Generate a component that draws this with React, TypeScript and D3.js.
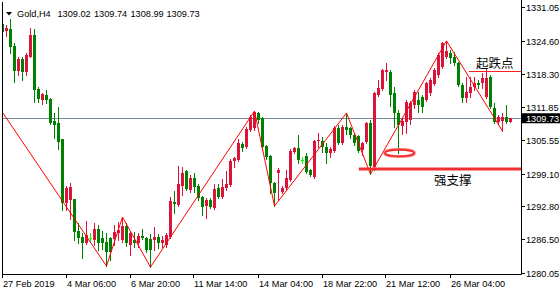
import React from 'react';
import * as d3 from 'd3';

// ---- DATA (H4 Gold candles) ----
const opens = [
  1327.93, 1326.49, 1326.88, 1323.61, 1318.80, 1321.11, 1318.61, 1321.50, 1325.72, 1315.34,
  1313.23, 1314.19, 1313.42, 1309.19, 1308.81, 1305.73, 1293.43, 1294.01, 1294.20, 1288.05,
  1286.90, 1285.75, 1286.80, 1286.33, 1288.44, 1286.71, 1285.94, 1286.71, 1286.52, 1287.67,
  1286.33, 1289.01, 1285.36, 1286.33, 1285.75, 1287.09, 1286.71, 1286.52, 1286.33, 1286.90,
  1285.75, 1285.36, 1286.90, 1293.63, 1293.05, 1296.70, 1299.58, 1295.93, 1298.24, 1296.70,
  1294.59, 1292.86, 1294.01, 1292.47, 1296.32, 1294.59, 1296.32, 1296.89, 1301.51, 1301.70,
  1304.77, 1304.20, 1307.46, 1307.85, 1310.73, 1309.77, 1304.39, 1302.47, 1297.28, 1299.20,
  1295.55, 1296.32, 1297.86, 1303.24, 1304.00, 1301.70, 1302.47, 1299.78, 1298.43, 1305.35,
  1305.35, 1304.20, 1303.05, 1303.43, 1307.85, 1304.97, 1308.04, 1307.85, 1306.50, 1306.31,
  1303.62, 1305.16, 1308.81, 1300.35, 1314.19, 1315.34, 1318.61, 1318.61, 1314.58, 1310.73,
  1308.23, 1309.00, 1309.39, 1312.27, 1313.23, 1313.81, 1313.23, 1314.58, 1316.31, 1318.04,
  1319.57, 1321.50, 1322.26, 1321.50, 1320.34, 1316.11, 1313.61, 1314.58, 1315.73, 1316.50,
  1316.50, 1313.81, 1317.65, 1311.69, 1309.00, 1309.19, 1309.96, 1309.02,
];
const highs = [
  1328.22, 1327.65, 1328.80, 1324.19, 1321.50, 1321.50, 1322.26, 1327.07, 1326.88, 1315.73,
  1314.58, 1315.15, 1313.61, 1310.73, 1311.89, 1305.80, 1296.70, 1297.28, 1294.30, 1289.59,
  1287.67, 1289.97, 1287.67, 1289.59, 1289.21, 1288.05, 1287.67, 1286.90, 1289.21, 1289.78,
  1290.74, 1289.59, 1287.86, 1287.86, 1287.67, 1288.44, 1286.90, 1287.48, 1288.82, 1287.48,
  1287.09, 1287.67, 1294.59, 1295.74, 1300.55, 1300.35, 1299.70, 1298.82, 1299.20, 1297.09,
  1294.70, 1294.39, 1294.39, 1297.09, 1297.09, 1298.05, 1299.58, 1301.89, 1302.20, 1305.73,
  1305.16, 1308.04, 1310.35, 1311.11, 1311.00, 1309.96, 1304.58, 1302.66, 1297.47, 1300.16,
  1296.70, 1299.78, 1303.81, 1304.20, 1306.50, 1302.28, 1303.05, 1299.97, 1305.50, 1306.89,
  1306.12, 1304.97, 1304.20, 1308.23, 1308.43, 1308.43, 1310.73, 1308.04, 1306.89, 1306.50,
  1305.16, 1309.00, 1309.39, 1314.70, 1317.07, 1319.10, 1320.34, 1319.00, 1315.73, 1311.31,
  1309.77, 1313.23, 1313.04, 1315.15, 1314.77, 1314.19, 1316.69, 1317.46, 1319.38, 1322.26,
  1324.30, 1324.60, 1322.84, 1322.45, 1320.50, 1316.50, 1317.65, 1317.65, 1317.65, 1317.07,
  1318.42, 1319.19, 1318.04, 1312.65, 1310.35, 1310.73, 1312.27, 1309.74,
];
const lows = [
  1326.11, 1325.53, 1322.26, 1316.69, 1318.04, 1317.07, 1318.04, 1321.50, 1312.85, 1312.85,
  1312.46, 1312.65, 1308.70, 1305.93, 1303.81, 1292.09, 1292.09, 1290.36, 1286.33, 1285.75,
  1282.86, 1285.60, 1285.94, 1285.36, 1284.40, 1284.59, 1281.33, 1282.48, 1285.36, 1286.33,
  1285.94, 1285.17, 1283.44, 1284.98, 1284.98, 1286.52, 1284.02, 1281.13, 1284.40, 1284.79,
  1284.98, 1284.98, 1286.70, 1291.51, 1292.90, 1294.97, 1295.90, 1295.55, 1295.55, 1294.01,
  1291.13, 1290.55, 1292.47, 1292.30, 1294.39, 1294.40, 1295.93, 1296.70, 1300.35, 1301.51,
  1303.43, 1304.00, 1307.27, 1307.46, 1308.81, 1304.00, 1301.89, 1295.36, 1292.86, 1294.01,
  1295.36, 1296.13, 1297.66, 1303.05, 1301.12, 1301.12, 1299.20, 1298.63, 1298.30, 1304.20,
  1303.24, 1301.12, 1302.28, 1303.24, 1304.77, 1304.80, 1306.70, 1305.93, 1304.58, 1303.24,
  1302.66, 1304.97, 1299.01, 1299.78, 1314.00, 1315.15, 1317.07, 1312.08, 1308.04, 1303.05,
  1306.70, 1306.89, 1308.62, 1311.69, 1310.92, 1310.92, 1313.04, 1314.19, 1316.10, 1317.65,
  1319.38, 1321.30, 1320.34, 1319.96, 1315.90, 1312.85, 1312.85, 1313.81, 1315.15, 1315.54,
  1315.54, 1313.61, 1311.69, 1308.81, 1308.62, 1307.27, 1308.81, 1308.99,
];
const closes = [
  1326.30, 1327.07, 1323.42, 1318.80, 1321.11, 1318.61, 1321.88, 1325.72, 1315.15, 1313.42,
  1314.38, 1313.23, 1308.81, 1308.43, 1305.16, 1293.43, 1296.32, 1296.51, 1287.86, 1286.71,
  1285.75, 1287.29, 1286.80, 1288.44, 1285.75, 1285.75, 1284.02, 1284.02, 1287.86, 1288.25,
  1289.01, 1285.75, 1287.67, 1285.75, 1287.09, 1286.71, 1284.40, 1284.40, 1286.90, 1285.75,
  1286.33, 1287.29, 1293.82, 1293.24, 1297.09, 1299.20, 1296.13, 1298.24, 1296.51, 1294.39,
  1292.67, 1294.01, 1292.67, 1296.13, 1294.59, 1296.51, 1297.09, 1301.51, 1302.08, 1304.97,
  1304.00, 1307.66, 1309.96, 1310.92, 1309.39, 1304.20, 1302.28, 1297.28, 1295.36, 1299.78,
  1296.32, 1298.24, 1303.43, 1304.00, 1301.70, 1301.70, 1299.39, 1298.82, 1305.35, 1305.54,
  1304.20, 1303.05, 1303.81, 1307.85, 1304.97, 1308.04, 1307.46, 1306.50, 1304.97, 1303.43,
  1304.97, 1308.81, 1300.55, 1314.58, 1315.54, 1319.00, 1319.00, 1314.19, 1310.73, 1308.43,
  1309.19, 1312.85, 1312.65, 1314.77, 1312.27, 1311.89, 1316.50, 1317.07, 1319.00, 1321.88,
  1324.19, 1322.65, 1321.30, 1320.34, 1316.11, 1313.61, 1314.77, 1315.73, 1316.50, 1316.11,
  1317.46, 1317.46, 1311.89, 1309.00, 1309.96, 1309.96, 1309.00, 1309.73,
];

const timeLabels = ['27 Feb 2019', '4 Mar 06:00', '6 Mar 20:00', '11 Mar 14:00', '14 Mar 04:00', '18 Mar 22:00', '21 Mar 12:00', '26 Mar 04:00'];
const timeLabelBars = [0, 16, 32, 48, 64, 80, 96, 112];
const priceTicks = [1331.05, 1324.6, 1318.3, 1311.85, 1305.55, 1299.1, 1292.8, 1286.5, 1280.05];

const zigzagBars = [-4, 26, 30, 37, 63, 68, 86, 92, 111, 125];
const zigzagPrices = [1315.4, 1281.33, 1290.74, 1281.13, 1311.11, 1292.86, 1310.73, 1299.01, 1324.6, 1307.27];

const headerSymbol = 'Gold,H4';
const headerValues = ['1309.02', '1309.74', '1308.99', '1309.73'];
const lastPrice = 1309.73;

const resistancePrice = 1318.9;
const resistanceStartBar = 116.6;
const resistanceLabel = '起跌点';
const supportPrice = 1300.0;
const supportStartBar = 89.1;
const supportLabel = '强支撑';
const markBar = 99.25;
const markPrice = 1303.05;

// ---- LAYOUT ----
const W = 560;
const H = 290;
const plotLeft = 2;
const plotRight = 521;
const plotTop = 2;
const plotBottom = 274;
const FONT = '"Liberation Sans", Arial, sans-serif';

const BULL = '#dc143c';
const BEAR = '#008000';
const DOJI = '#00ff00';

export default function App() {
  const x = d3.scaleLinear().domain([0, 127]).range([2.5, 510.5]);
  const y = d3.scaleLinear().domain([1280.05, 1331.05]).range([272.7, 7.3]);

  const candles = opens.map((o, i) => ({ o, h: highs[i], l: lows[i], c: closes[i], i }));

  const zz = zigzagBars.map((b, k) => [x(b), y(zigzagPrices[k])] as [number, number]);
  const zzPath = d3.line()(zz) || '';

  const lastY = Math.round(y(lastPrice)) + 0.5;
  const resY = Math.round(y(resistancePrice)) + 0.5;
  const supY = y(supportPrice);
  const headerX = [57.5, 94, 130.5, 166.5];

  return (
    <svg width={W} height={H} style={{ position: 'absolute', left: 0, top: 0, background: '#fff' }}>
      <defs>
        <clipPath id="plot">
          <rect x={plotLeft + 0.5} y={plotTop} width={plotRight - plotLeft - 0.5} height={plotBottom - plotTop} />
        </clipPath>
      </defs>
      <rect x={0} y={0} width={W} height={H} fill="#fff" />

      {/* price line */}
      <line x1={plotLeft} x2={plotRight} y1={lastY} y2={lastY} stroke="#778899" strokeWidth={1} />

      <g clipPath="url(#plot)">
        {candles.map((d) => {
          const cx = x(d.i);
          const color = d.c > d.o ? BULL : d.c < d.o ? BEAR : DOJI;
          const top = y(Math.max(d.o, d.c));
          const bot = y(Math.min(d.o, d.c));
          const bh = Math.max(1, Math.round(bot) - Math.round(top));
          return (
            <g key={d.i}>
              <line x1={cx} x2={cx} y1={Math.round(y(d.h))} y2={Math.round(y(d.l)) + 1} stroke={color} strokeWidth={1} />
              {color === DOJI ? (
                <line x1={cx - 1.5} x2={cx + 1.5} y1={Math.round(top) + 0.5} y2={Math.round(top) + 0.5} stroke={color} strokeWidth={1} />
              ) : (
                <rect x={cx - 1.5} y={Math.round(top)} width={3} height={bh} fill={color} />
              )}
            </g>
          );
        })}
        <path d={zzPath} fill="none" stroke="#ff0000" strokeWidth={1} />
      </g>

      {/* resistance & support annotations */}
      <line x1={x(resistanceStartBar)} x2={plotRight} y1={resY} y2={resY} stroke="#ff2020" strokeWidth={1} />
      <text x={x(resistanceStartBar) + 7} y={resY - 4} fontFamily='"Noto Sans CJK SC", sans-serif' fontSize={12.5} fill="#000">
        {resistanceLabel}
      </text>
      <line x1={x(supportStartBar)} x2={plotRight} y1={supY} y2={supY} stroke="#f03030" strokeWidth={3} />
      <text x={x(supportStartBar) + 75} y={supY + 16} fontFamily='"Noto Sans CJK SC", sans-serif' fontSize={12.5} fill="#000">
        {supportLabel}
      </text>
      <ellipse cx={x(markBar)} cy={y(markPrice)} rx={15} ry={3.6} fill="none" stroke="#ff5a5a" strokeWidth={2.6} opacity={0.85} />
      <ellipse cx={x(markBar)} cy={y(markPrice)} rx={14.5} ry={3.2} fill="none" stroke="#ee1c1c" strokeWidth={1.2} />

      {/* frame */}
      <line x1={plotLeft + 0.5} x2={plotLeft + 0.5} y1={plotTop} y2={plotBottom + 0.5} stroke="#000" />
      <line x1={plotLeft} x2={plotRight + 0.5} y1={plotBottom + 0.5} y2={plotBottom + 0.5} stroke="#000" />
      <line x1={plotRight + 0.5} x2={plotRight + 0.5} y1={0} y2={plotBottom + 0.5} stroke="#000" />

      {/* right axis */}
      {priceTicks.map((p) => {
        const ty = Math.round(y(p)) + 0.5;
        return (
          <g key={p}>
            <line x1={plotRight} x2={plotRight + 4} y1={ty} y2={ty} stroke="#000" />
            <text x={526} y={ty + 3.5} fontFamily={FONT} fontSize={9.2} fill="#000">
              {p.toFixed(2)}
            </text>
          </g>
        );
      })}
      <rect x={plotRight + 0.5} y={y(lastPrice) - 5} width={W - plotRight} height={10} fill="#000" />
      <text x={526} y={y(lastPrice) + 3.5} fontFamily={FONT} fontSize={9.2} fill="#fff">
        {lastPrice.toFixed(2)}
      </text>

      {/* bottom axis */}
      {timeLabelBars.map((b, k) => {
        const tx = Math.round(x(b)) - 0.5;
        return (
          <g key={b}>
            <line x1={tx} x2={tx} y1={plotBottom} y2={plotBottom + 4} stroke="#000" />
            <text x={tx + 0.5} y={286.5} fontFamily={FONT} fontSize={9.2} fill="#000">
              {timeLabels[k]}
            </text>
          </g>
        );
      })}

      {/* header */}
      <path d="M6,12 L12,12 L9,15.5 Z" fill="#000" />
      <text x={17} y={17} fontFamily={FONT} fontSize={9.2} fill="#000">
        {headerSymbol}
      </text>
      {headerValues.map((v, k) => (
        <text key={k} x={headerX[k]} y={17} fontFamily={FONT} fontSize={9.2} fill="#000">
          {v}
        </text>
      ))}
    </svg>
  );
}
